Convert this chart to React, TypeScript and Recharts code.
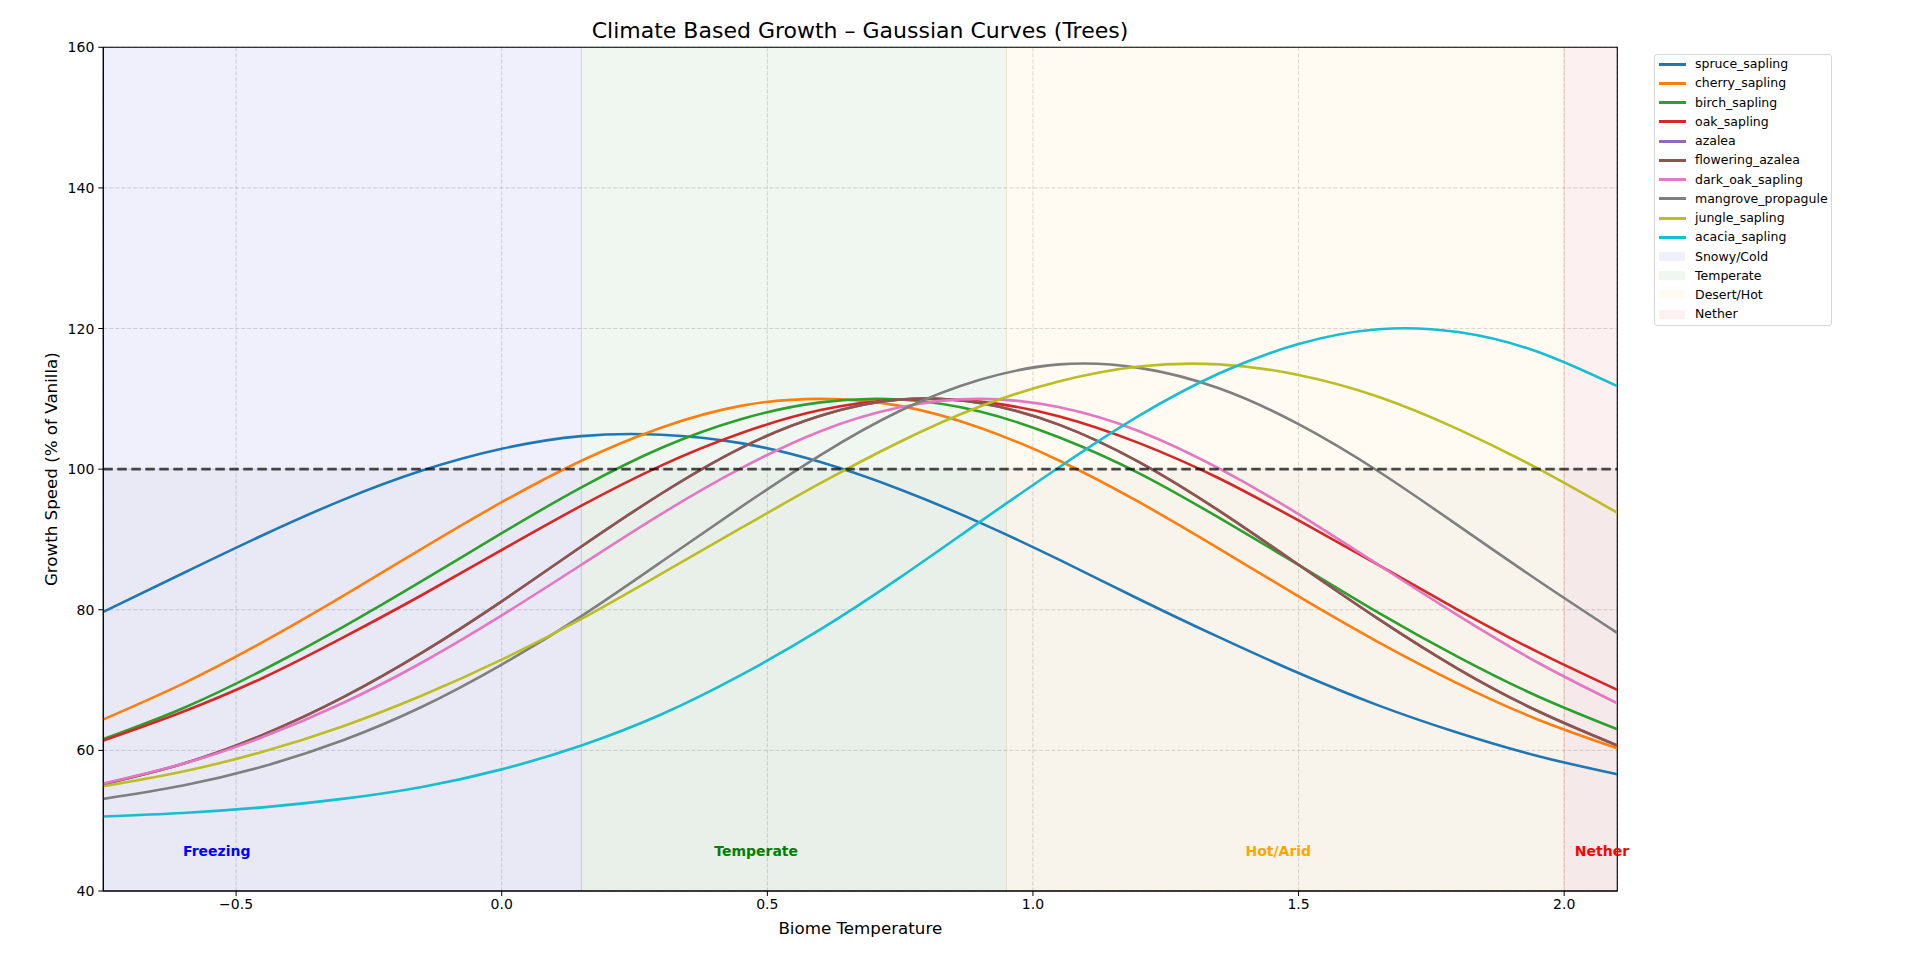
import {
  CartesianGrid,
  Line,
  LineChart,
  ReferenceArea,
  ReferenceDot,
  ReferenceLine,
  XAxis,
  YAxis,
} from "recharts"

// biome temperature samples (x axis)
const temps = [-0.75, -0.6, -0.45, -0.3, -0.15, 0, 0.15, 0.3, 0.45, 0.6, 0.75, 0.9, 1.05, 1.2, 1.35, 1.5, 1.65, 1.8, 1.95, 2.1]

// growth speed (% of vanilla)
const spruceSapling = [79.7, 85.2, 90.6, 95.6, 99.8, 102.9, 104.7, 104.9, 103.7, 101.0, 97.1, 92.4, 87.1, 81.5, 76.1, 71.0, 66.4, 62.5, 59.2, 56.6]
const cherrySapling = [64.4, 69.5, 75.4, 81.9, 88.7, 95.3, 101.2, 105.9, 109.0, 110.0, 109.0, 105.9, 101.2, 95.3, 88.7, 81.9, 75.4, 69.5, 64.4, 60.3]
const birchSapling = [61.6, 66.0, 71.4, 77.5, 84.1, 90.9, 97.4, 103.0, 107.1, 109.5, 109.9, 108.2, 104.5, 99.4, 93.1, 86.4, 79.6, 73.3, 67.7, 63.0]
const oakSapling = [61.4, 65.5, 70.3, 76.0, 82.1, 88.5, 94.8, 100.5, 105.1, 108.4, 109.9, 109.6, 107.5, 103.7, 98.7, 92.7, 86.4, 80.0, 74.0, 68.6]
const azalea = [55.2, 58.1, 62.2, 67.5, 73.9, 81.2, 89.0, 96.5, 103.0, 107.6, 109.9, 109.4, 106.3, 101.0, 94.1, 86.4, 78.7, 71.6, 65.6, 60.7]
const floweringAzalea = [55.2, 58.1, 62.2, 67.5, 73.9, 81.2, 89.0, 96.5, 103.0, 107.6, 109.9, 109.4, 106.3, 101.0, 94.1, 86.4, 78.7, 71.6, 65.6, 60.7]
const darkOakSapling = [55.3, 58.1, 61.9, 66.7, 72.5, 79.2, 86.4, 93.6, 100.1, 105.4, 108.8, 110.0, 108.8, 105.4, 100.1, 93.6, 86.4, 79.2, 72.5, 66.7]
const mangrovePropagule = [53.1, 55.0, 57.7, 61.4, 66.2, 72.2, 79.1, 86.8, 94.6, 102.0, 108.3, 112.7, 114.9, 114.4, 111.5, 106.4, 99.7, 92.0, 84.2, 76.7]
const jungleSapling = [54.9, 57.0, 59.8, 63.4, 67.8, 72.9, 78.7, 85.1, 91.6, 98.0, 103.9, 108.9, 112.5, 114.6, 114.9, 113.4, 110.3, 105.7, 100.1, 93.8]
const acaciaSapling = [50.6, 51.1, 51.9, 53.1, 54.8, 57.3, 60.7, 65.1, 70.7, 77.2, 84.6, 92.5, 100.3, 107.6, 113.6, 117.8, 119.9, 119.5, 116.7, 111.8]

const series = [
  { key: "spruce_sapling", color: "#1f77b4", values: spruceSapling },
  { key: "cherry_sapling", color: "#ff7f0e", values: cherrySapling },
  { key: "birch_sapling", color: "#2ca02c", values: birchSapling },
  { key: "oak_sapling", color: "#d62728", values: oakSapling },
  { key: "azalea", color: "#9467bd", values: azalea },
  { key: "flowering_azalea", color: "#8c564b", values: floweringAzalea },
  { key: "dark_oak_sapling", color: "#e377c2", values: darkOakSapling },
  { key: "mangrove_propagule", color: "#7f7f7f", values: mangrovePropagule },
  { key: "jungle_sapling", color: "#bcbd22", values: jungleSapling },
  { key: "acacia_sapling", color: "#17becf", values: acaciaSapling },
]

const zoneNames = ["Snowy/Cold", "Temperate", "Desert/Hot", "Nether"]
const zoneStarts = [-0.75, 0.15, 0.95, 2.0]
const zoneEnds = [0.15, 0.95, 2.0, 2.1]
const zoneFills = ["#4343d9", "#439b43", "#ffc05d", "#e64343"]

const zoneLabels = ["Freezing", "Temperate", "Hot/Arid", "Nether"]
const zoneLabelX = [-0.6, 0.4, 1.4, 2.02]
const zoneLabelColors = ["#0000ff", "#008000", "#ffa500", "#ff0000"]
const zoneLabelY = 45

const xTicks = [-0.5, 0, 0.5, 1, 1.5, 2]
const yTicks = [40, 60, 80, 100, 120, 140, 160]
const vanillaLevel = 100

const FONT = "'DejaVu Sans', sans-serif"
const ZONE_ALPHA = 0.08
const ROW = 19.23

const rows = temps.map((temp, i) => {
  const row: Record<string, number> = { temp }
  series.forEach((s) => {
    row[s.key] = s.values[i]
  })
  return row
})

const fmtX = (v: number) => v.toFixed(1).replace("-", "\u2212")

function zoneLabel(text: string, color: string) {
  return (props: any) => {
    const { x, y } = props.viewBox
    return (
      <text x={x} y={y} fill={color} fontWeight="bold" fontSize={14} fontFamily={FONT}>
        {text}
      </text>
    )
  }
}

function LegendBox() {
  const entries = [
    ...series.map((s) => ({ name: s.key, color: s.color, patch: false })),
    ...zoneNames.map((name, i) => ({ name, color: zoneFills[i], patch: true })),
  ]
  return (
    <div
      style={{
        position: "absolute",
        left: 1654,
        top: 54,
        width: 178,
        height: 272,
        boxSizing: "border-box",
        border: "1px solid #d6d6d6",
        borderRadius: 3,
        background: "rgba(255,255,255,0.8)",
        fontFamily: FONT,
        fontSize: 12.5,
        lineHeight: "14px",
        color: "#000",
      }}
    >
      {entries.map((e, i) => {
        const cy = 9.2 + ROW * i
        return (
          <div key={e.name}>
            {e.patch ? (
              <div
                style={{
                  position: "absolute",
                  left: 4,
                  top: Math.round(cy - 4.5),
                  width: 26,
                  height: 9,
                  background: e.color,
                  opacity: ZONE_ALPHA,
                }}
              />
            ) : (
              <div
                style={{
                  position: "absolute",
                  left: 3.5,
                  top: Math.round(cy - 1.5),
                  width: 27.5,
                  height: 3,
                  background: e.color,
                }}
              />
            )}
            <span style={{ position: "absolute", left: 40, top: cy - 7, whiteSpace: "nowrap" }}>{e.name}</span>
          </div>
        )
      })}
    </div>
  )
}

export default function App() {
  return (
    <div
      style={{
        position: "absolute",
        left: 0,
        top: 0,
        width: 1919,
        height: 965,
        background: "#fff",
        fontFamily: FONT,
      }}
    >
      <div
        style={{
          position: "absolute",
          left: 0,
          top: 19,
          width: 1720,
          textAlign: "center",
          fontSize: 22,
          lineHeight: "24px",
          color: "#000",
        }}
      >
        Climate Based Growth – Gaussian Curves (Trees)
      </div>

      <LineChart
        width={1919}
        height={965}
        data={rows}
        margin={{ top: 47.3, right: 301.7, left: 43.3, bottom: 26 }}
      >
        {zoneNames.map((name, i) => (
          <ReferenceArea
            key={name}
            x1={zoneStarts[i]}
            x2={zoneEnds[i]}
            y1={40}
            y2={160}
            fill={zoneFills[i]}
            fillOpacity={ZONE_ALPHA}
            stroke={zoneFills[i]}
            strokeOpacity={0.12}
          />
        ))}
        <ReferenceArea x1={-0.75} x2={2.1} y1={40} y2={vanillaLevel} fill="#30303a" fillOpacity={0.035} stroke="none" />
        <CartesianGrid stroke="#b0b0b0" strokeOpacity={0.5} strokeDasharray="4 2" />
        <XAxis
          dataKey="temp"
          type="number"
          domain={[-0.75, 2.1]}
          ticks={xTicks}
          tickFormatter={fmtX}
          allowDataOverflow
          height={48}
          tickSize={5}
          tickMargin={3}
          stroke="#000"
          tick={{ fill: "#000", fontSize: 14, fontFamily: FONT }}
          label={{
            value: "Biome Temperature",
            position: "insideBottom",
            offset: 5.5,
            fill: "#000",
            fontSize: 16.7,
            fontFamily: FONT,
          }}
        />
        <YAxis
          type="number"
          domain={[40, 160]}
          ticks={yTicks}
          allowDataOverflow
          width={60}
          tickSize={5}
          tickMargin={4}
          stroke="#000"
          tick={{ fill: "#000", fontSize: 14, fontFamily: FONT }}
          label={{
            value: "Growth Speed (% of Vanilla)",
            angle: -90,
            position: "insideLeft",
            offset: 8,
            fill: "#000",
            fontSize: 16.7,
            fontFamily: FONT,
            style: { textAnchor: "middle" },
          }}
        />
        {series.map((s) => (
          <Line
            key={s.key}
            dataKey={s.key}
            type="natural"
            stroke={s.color}
            strokeWidth={2.6}
            dot={false}
            activeDot={false}
            isAnimationActive={false}
          />
        ))}
        <ReferenceLine
          y={vanillaLevel}
          stroke="#000"
          strokeOpacity={0.7}
          strokeWidth={2.6}
          strokeDasharray="9.5 4.5"
        />
        {zoneLabels.map((text, i) => (
          <ReferenceDot
            key={text}
            x={zoneLabelX[i]}
            y={zoneLabelY}
            r={0}
            fill="none"
            stroke="none"
            label={zoneLabel(text, zoneLabelColors[i])}
          />
        ))}
        <ReferenceArea x1={-0.75} x2={2.1} y1={40} y2={160} fill="none" stroke="#000" strokeWidth={1.1} />
      </LineChart>

      <LegendBox />
    </div>
  )
}
